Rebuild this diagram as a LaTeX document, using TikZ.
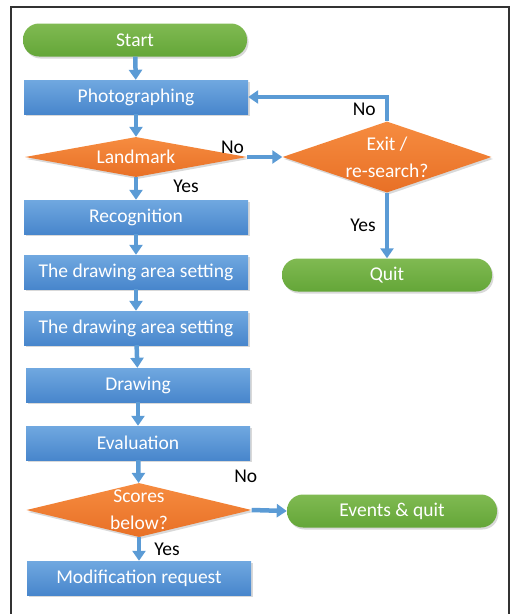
\documentclass[tikz,border=0pt]{standalone}
\usepackage{fontspec}
\setmainfont{Carlito}
\usetikzlibrary{shapes.geometric}
\usetikzlibrary{arrows.meta}
\usetikzlibrary{shadows}
\definecolor{flowblue}{RGB}{91,155,213}
\definecolor{boxtop}{RGB}{112,168,224}
\definecolor{boxbot}{RGB}{72,134,204}
\definecolor{orgtop}{RGB}{246,140,64}
\definecolor{orgbot}{RGB}{232,112,38}
\definecolor{grntop}{RGB}{128,186,82}
\definecolor{grnbot}{RGB}{100,166,56}
\definecolor{framegray}{RGB}{50,50,50}

\begin{document}
\begin{tikzpicture}[x=1pt,y=-1pt,>={Triangle[width=13pt,length=10pt]},
font=\fontsize{19.5}{27}\selectfont,
flow/.style={draw=flowblue,line width=4.5pt},
lab/.style={text=black,inner sep=1pt},
procblock/.style={rectangle,minimum width=224pt,minimum height=34pt,inner sep=0pt,
  top color=boxtop,bottom color=boxbot,text=white,
  drop shadow={opacity=0.3,shadow xshift=1.5pt,shadow yshift=-2pt}},
termblock/.style={rectangle,rounded corners=16pt,minimum height=33pt,inner sep=0pt,
  top color=grntop,bottom color=grnbot,text=white,
  drop shadow={opacity=0.3,shadow xshift=1.5pt,shadow yshift=-2pt}},
decision/.style={diamond,inner xsep=0pt,inner ysep=-8pt,align=center,
  top color=orgtop,bottom color=orgbot,text=white,
  drop shadow={opacity=0.3,shadow xshift=1.5pt,shadow yshift=-2pt}}]

\useasboundingbox (0,0) rectangle (510,614);
\draw[framegray,line width=1.5pt] (11,614) -- (11,7) -- (509,7) -- (509,614);

\draw (135,40) node[termblock,minimum width=224pt] (start) {Start};
\draw (136,97) node[procblock] (photo) {Photographing};
\draw (136,157) node[decision,shape aspect=5.5,minimum width=222pt,minimum height=40pt] (landmark) {Landmark};
\draw (387,157) node[decision,shape aspect=2.9,minimum width=209pt,minimum height=71pt] (exit) {Exit /\\re-search?};
\draw (387,275) node[termblock,minimum width=210pt] (quit) {Quit};
\draw (136,217) node[procblock] (recog) {Recognition};
\draw (136,272) node[procblock] (area1) {The drawing area setting};
\draw (136,328) node[procblock] (area2) {The drawing area setting};
\draw (138,385) node[procblock] (drawing) {Drawing};
\draw (138,443) node[procblock] (eval) {Evaluation};
\draw (139,510) node[decision,shape aspect=4.2,minimum width=225pt,minimum height=54pt] (scores) {Scores\\below?};
\draw (392,511) node[termblock,minimum width=210pt] (events) {Events \& quit};
\draw (139,578) node[procblock] (modreq) {Modification request};

\draw[flow,->] (start) -- (photo);
\draw[flow,->] (photo) -- (landmark);
\draw[flow,->] (landmark.east) node[lab,above left] {No} -- (exit.west);
\draw[flow,->] (exit.north) |- node[lab,pos=0.25,left=8pt] {No} (photo.east);
\draw[flow,->] (landmark.south) -- node[lab,pos=0.4,right=34pt] {Yes} (recog.north);
\draw[flow,->] (exit.south) -- node[lab,midway,left=8pt] {Yes} (quit.north);
\draw[flow,->] (recog) -- (area1);
\draw[flow,->] (area1) -- (area2);
\draw[flow,->] (area2) -- (drawing);
\draw[flow,->] (drawing) -- (eval);
\draw[flow,->] (eval) -- (scores);
\draw[flow,->] (scores.east) node[lab,above=24pt,xshift=-6pt] {No} -- (events.west);
\draw[flow,->] (scores.south) -- node[lab,midway,right=12pt] {Yes} (modreq.north);
\end{tikzpicture}
\end{document}
